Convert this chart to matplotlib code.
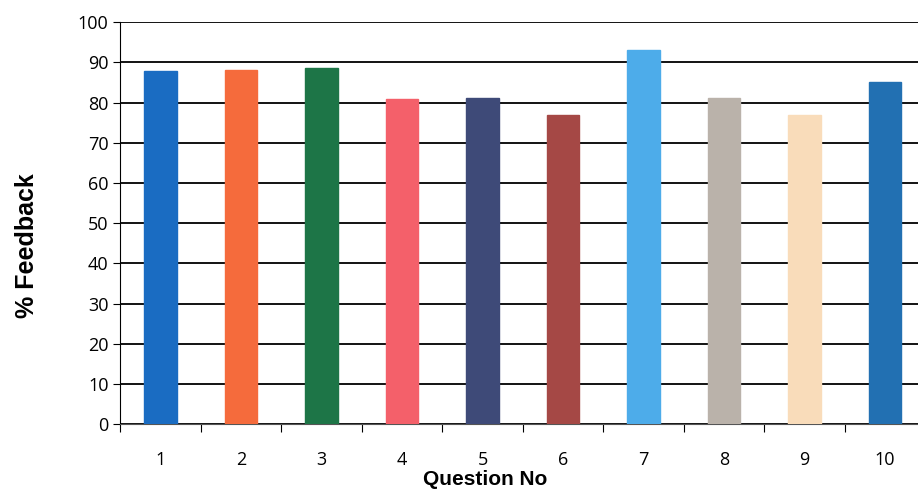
import matplotlib
matplotlib.use("Agg")
import matplotlib.pyplot as plt

questions = [1, 2, 3, 4, 5, 6, 7, 8, 9, 10]
feedback = [87.8, 88.2, 88.5, 80.8, 81, 77, 93, 81, 77, 85]
colors = ["#1a6cc2", "#f56b3c", "#1d7547", "#f4606a", "#3e4a78",
          "#a54845", "#4dacea", "#bab2aa", "#f9dcba", "#2270b2"]

plt.rcParams["font.family"] = ["Open Sans", "DejaVu Sans"]

fig = plt.figure(figsize=(9.18, 4.91), dpi=100)
ax = fig.add_axes([0.131, 0.136, 0.877, 0.819])

ax.bar(questions, feedback, width=0.4, color=colors, edgecolor=colors, zorder=3)

ax.set_xlim(0.5, 10.5)
ax.set_ylim(0, 100)
ax.set_yticks(range(0, 101, 10))
ax.grid(axis="y", color="black", linewidth=1.3, zorder=0)
ax.set_axisbelow(True)

# category ticks sit between bars, labels under the bars
ax.set_xticks([q + 0.5 for q in [0] + questions], minor=False)
ax.set_xticklabels([])
ax.set_xticks(questions, minor=True)
ax.set_xticklabels([str(q) for q in questions], minor=True, fontsize=13)
ax.tick_params(axis="x", which="major", length=6, direction="out")
ax.tick_params(axis="x", which="minor", length=0, pad=19)
ax.tick_params(axis="y", length=5, labelsize=13)

for side in ["top", "right"]:
    ax.spines[side].set_visible(False)
ax.spines["left"].set_color("black")
ax.spines["bottom"].set_color("#555555")

ax.set_ylabel("% Feedback", fontsize=18, fontweight="bold", labelpad=28,
              family="Liberation Sans", y=0.445)
ax.set_xlabel("Question No", fontsize=15, fontweight="bold", labelpad=1,
              family="Liberation Sans", x=0.453)

plt.savefig("out.png", dpi=100)
